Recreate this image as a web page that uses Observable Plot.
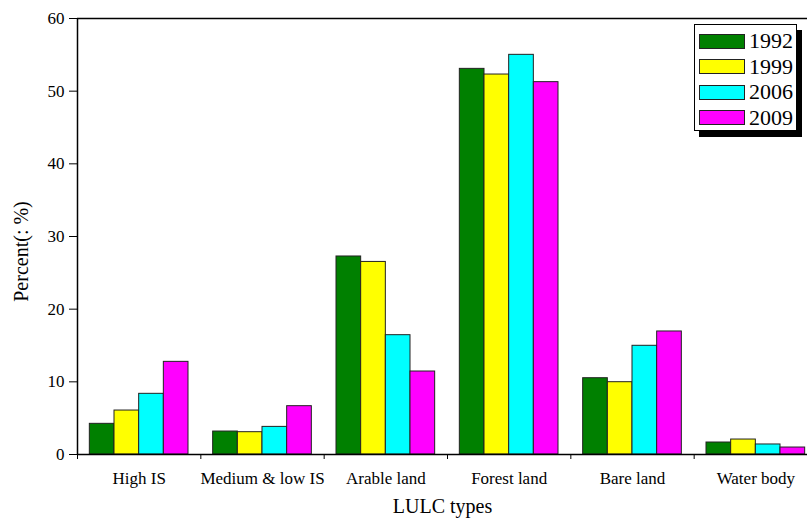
<!DOCTYPE html>
<html>
<head>
<meta charset="utf-8">
<script src="https://cdn.jsdelivr.net/npm/d3@7"></script>
<script src="https://cdn.jsdelivr.net/npm/@observablehq/plot@0.6"></script>
<style>
  html, body { margin: 0; padding: 0; background: #fff; }
  #wrap { position: relative; width: 807px; height: 519px; font-family: "Liberation Serif", serif; }
  #legend {
    position: absolute; left: 694px; top: 24px; width: 103px; height: 107px;
    border: 1px solid #000; background: #fff; box-shadow: 5px 6px 0 #000;
    box-sizing: border-box;
  }
  .row { position: absolute; left: 4px; height: 16px; display: flex; align-items: center; }
  .sw { width: 46px; height: 15px; border: 1px solid #222; box-sizing: border-box; }
  .lab { margin-left: 4px; font-family: "Liberation Serif", serif; font-size: 22px; line-height: 16px; color: #000; }
</style>
</head>
<body>
<div id="wrap"><div id="chart"></div><div id="legend"></div></div>
<script>
const categories = ["High IS", "Medium & low IS", "Arable land", "Forest land", "Bare land", "Water body"];
const years = ["1992", "1999", "2006", "2009"];
const colors = ["#008000", "#ffff00", "#00ffff", "#ff00ff"];
const v1992 = [4.22, 3.16, 27.25, 53.07, 10.5, 1.65];
const v1999 = [6.05, 3.07, 26.5, 52.29, 9.95, 2.06];
const v2006 = [8.35, 3.8, 16.42, 55.0, 14.96, 1.38];
const v2009 = [12.75, 6.65, 11.42, 51.24, 16.93, 0.96];
const yTicks = [0, 10, 20, 30, 40, 50, 60];

const series = [v1992, v1999, v2006, v2009];
const data = [];
categories.forEach((c, i) => {
  years.forEach((y, j) => {
    const x1 = i + 0.1 + j * 0.2;
    data.push({cat: c, year: y, value: series[j][i], x1, x2: x1 + 0.2});
  });
});

const chart = Plot.plot({
  width: 807,
  height: 519,
  marginTop: 18,
  marginBottom: 65,
  marginLeft: 77,
  marginRight: 0,
  style: {fontFamily: "'Liberation Serif', serif", fontSize: "20px", background: "#fff", color: "#000"},
  x: {type: "linear", domain: [0, 6], range: [77, 817]},
  y: {domain: [0, 60]},
  color: {domain: years, range: colors},
  marks: [
    Plot.rectY(data, {x1: "x1", x2: "x2", y: "value", fill: "year", stroke: "#222", strokeWidth: 1}),
    Plot.axisY({ticks: yTicks, tickSize: 8, tickPadding: 5, fontSize: 17, tickFormat: d => String(d), label: null}),
    Plot.text(["Percent(: %)"], {frameAnchor: "left", textAnchor: "middle", lineAnchor: "middle", rotate: -90, dx: -56, dy: 15, fontSize: 20}),
    Plot.axisX({ticks: categories.map((c, i) => i + 0.5), tickFormat: d => categories[Math.floor(d)],
      tickSize: 0, tickPadding: 17, fontSize: 17, label: null}),
    Plot.axisX({ticks: d3.range(0, 7), tickFormat: () => "", tickSize: 5, label: null}),
    Plot.axisX({ticks: [], label: "LULC types", labelAnchor: "center", labelOffset: 58, labelArrow: "none"}),
    Plot.ruleY([0, 60], {stroke: "#000", strokeWidth: 1.5}),
    Plot.ruleX([0], {stroke: "#000", strokeWidth: 1.5})
  ]
});
document.getElementById("chart").appendChild(chart);

// legend
const legend = document.getElementById("legend");
years.forEach((y, j) => {
  const row = document.createElement("div");
  row.className = "row";
  row.style.top = (8 + j * 25.5) + "px";
  const sw = document.createElement("div");
  sw.className = "sw";
  sw.style.background = colors[j];
  const lab = document.createElement("span");
  lab.className = "lab";
  lab.textContent = y;
  row.appendChild(sw);
  row.appendChild(lab);
  legend.appendChild(row);
});
</script>
</body>
</html>
